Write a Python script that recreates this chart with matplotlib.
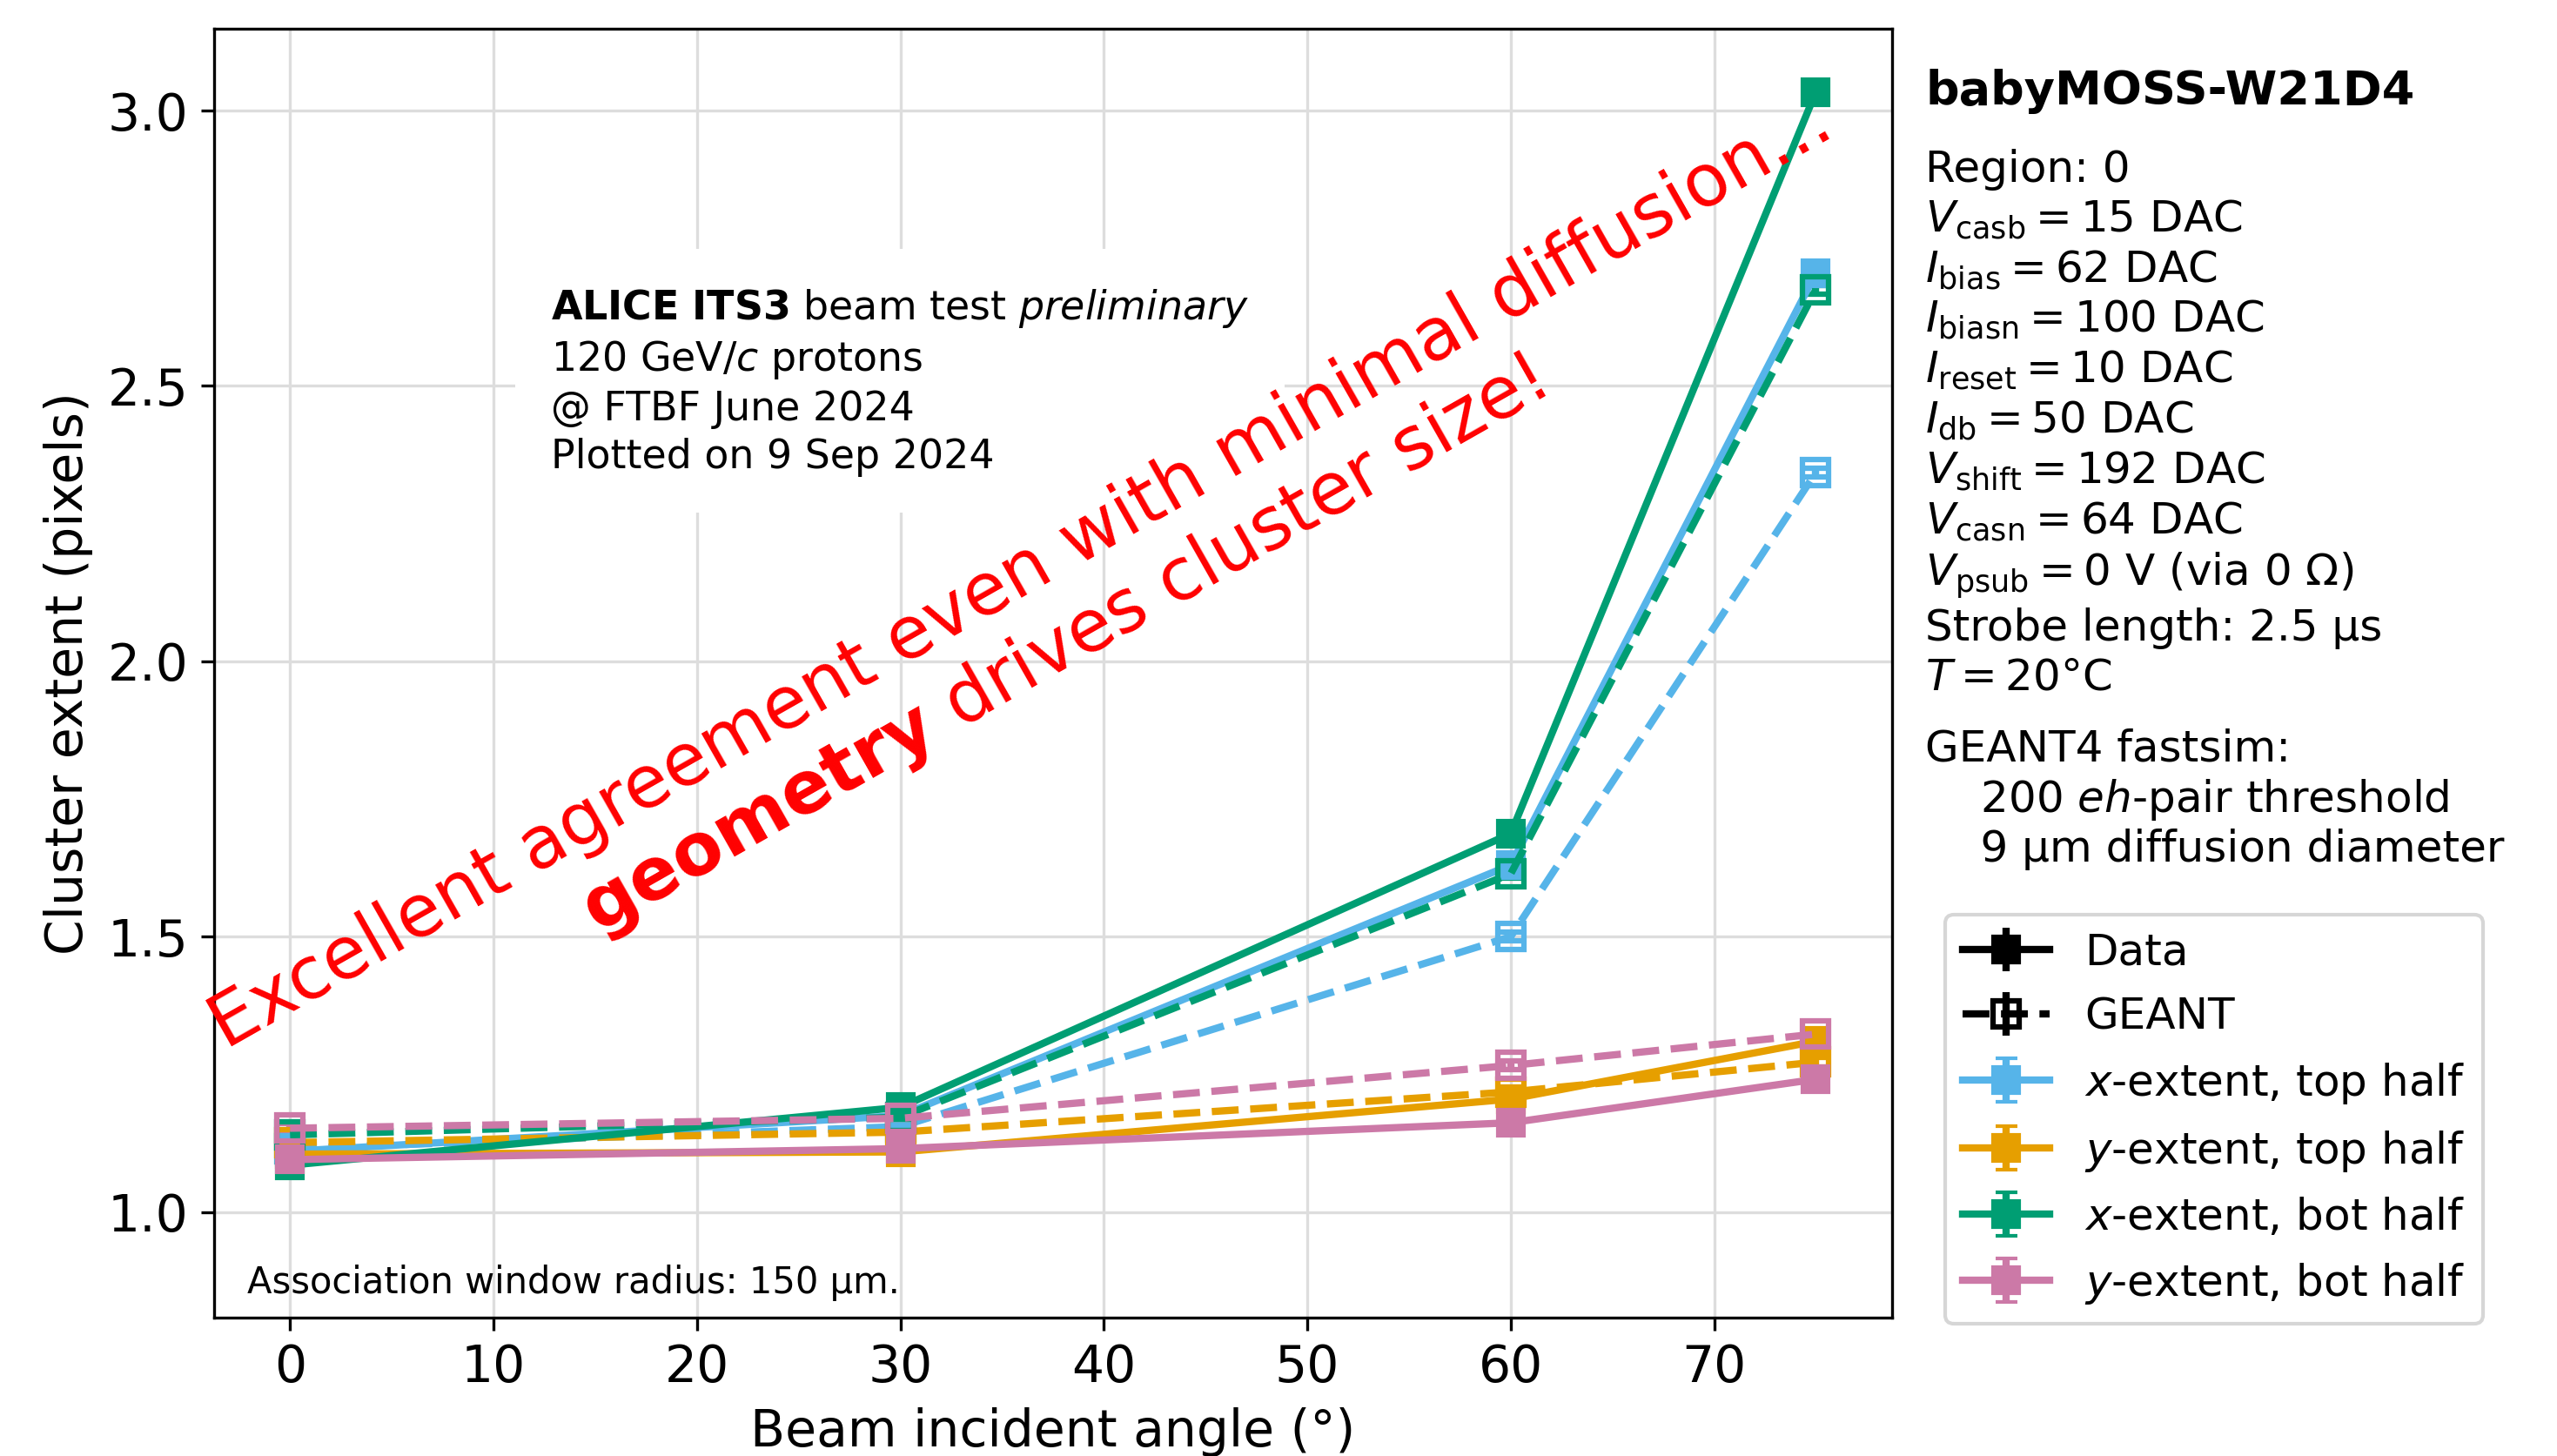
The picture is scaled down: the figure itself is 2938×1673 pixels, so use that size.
import numpy as np
import matplotlib
matplotlib.use("Agg")
import matplotlib.pyplot as plt

# beam angles (deg)
angles = [0, 30, 60, 75]

# cluster extent (pixels)
x_top_data = [1.110, 1.175, 1.630, 2.705]
x_top_geant = [1.115, 1.155, 1.500, 2.343]
y_top_data = [1.105, 1.109, 1.205, 1.310]
y_top_geant = [1.126, 1.145, 1.218, 1.272]
x_bot_data = [1.085, 1.190, 1.687, 3.034]
x_bot_geant = [1.140, 1.172, 1.614, 2.675]
y_bot_data = [1.095, 1.115, 1.162, 1.241]
y_bot_geant = [1.152, 1.170, 1.266, 1.323]
err = [0.008, 0.008, 0.008, 0.008]

labels = ["$x$-extent, top half", "$y$-extent, top half",
          "$x$-extent, bot half", "$y$-extent, bot half"]
colors = ["#56B4E9", "#E69F00", "#009E73", "#CC79A7"]
data_sets = [x_top_data, y_top_data, x_bot_data, y_bot_data]
geant_sets = [x_top_geant, y_top_geant, x_bot_geant, y_bot_geant]

fig = plt.figure(figsize=(2938 / 300, 1673 / 300), dpi=300)
ax = fig.add_axes([0.0836, 0.095, 0.6564, 0.885])

handles = []
for lab, c, d, g in zip(labels, colors, data_sets, geant_sets):
    h = ax.errorbar(angles, d, yerr=err, color=c, marker="s", ms=7, lw=2,
                    capsize=3, label=lab)
    ax.errorbar(angles, g, yerr=err, color=c, marker="s", ms=7, lw=2,
                ls="--", mfc="none", mew=1.5, capsize=3)
    handles.append(h)

# proxies for legend
hd = ax.errorbar([np.nan], [np.nan], yerr=[0.1], color="k", marker="s", ms=7, lw=2)
hg = ax.errorbar([np.nan], [np.nan], yerr=[0.1], color="k", marker="s", ms=7, lw=2,
                 ls="--", mfc="none", mew=1.5)

ax.set_xlim(-3.75, 78.75)
ax.set_ylim(0.808, 3.148)
ax.set_xticks(np.arange(0, 80, 10))
ax.set_yticks([1.0, 1.5, 2.0, 2.5, 3.0])
ax.tick_params(labelsize=14)
ax.grid(True, color="#dddddd", lw=0.8)
ax.set_axisbelow(True)
ax.set_xlabel("Beam incident angle (°)", fontsize=14)
ax.set_ylabel("Cluster extent (pixels)", fontsize=14)

ax.text(0.201, 0.80,
        "$\\bf{ALICE\\ ITS3}$ beam test $\\it{preliminary}$\n120 GeV/$c$ protons\n"
        "@ FTBF June 2024\nPlotted on 9 Sep 2024",
        transform=ax.transAxes, fontsize=11, va="top", ha="left", linespacing=1.28,
        bbox=dict(boxstyle="square,pad=0.9", fc="white", ec="none"))
ax.text(0.02, 0.013, "Association window radius: 150 µm.", transform=ax.transAxes,
        fontsize=10, ha="left", va="bottom")

ax.text(37.0, 2.09,
        "Excellent agreement even with minimal diffusion...\n"
        "$\\bf{geometry}$ drives cluster size!",
        color="red", fontsize=20, rotation=29.6, rotation_mode="anchor",
        ha="center", va="center", multialignment="center")

fig.text(0.753, 0.953, "babyMOSS-W21D4", fontsize=13, fontweight="bold",
         ha="left", va="top")
fig.text(0.753, 0.898,
         "Region: 0\n"
         "$V_\\mathrm{casb} = 15$ DAC\n"
         "$I_\\mathrm{bias} = 62$ DAC\n"
         "$I_\\mathrm{biasn} = 100$ DAC\n"
         "$I_\\mathrm{reset} = 10$ DAC\n"
         "$I_\\mathrm{db} = 50$ DAC\n"
         "$V_\\mathrm{shift} = 192$ DAC\n"
         "$V_\\mathrm{casn} = 64$ DAC\n"
         "$V_\\mathrm{psub} = 0$ V (via 0 Ω)\n"
         "Strobe length: 2.5 µs\n"
         "$T = 20$°C",
         fontsize=12, ha="left", va="top", linespacing=1.22)
fig.text(0.753, 0.500,
         "GEANT4 fastsim:\n    200 $eh$-pair threshold\n    9 µm diffusion diameter",
         fontsize=12, ha="left", va="top")

fig.legend([hd, hg] + handles, ["Data", "GEANT"] + labels, fontsize=12,
           loc="lower right", bbox_to_anchor=(0.971, 0.091), borderaxespad=0,
           labelspacing=0.52)

fig.savefig("out.png", dpi=300)
